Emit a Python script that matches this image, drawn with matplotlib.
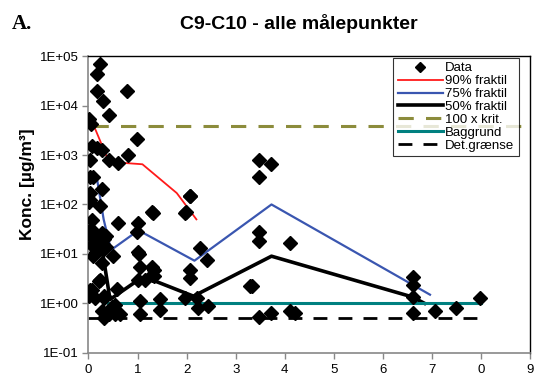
import numpy as np
import matplotlib
matplotlib.use("Agg")
import matplotlib.pyplot as plt
from matplotlib.ticker import FixedLocator, NullLocator

# measured data points (distance, concentration)
data_x = [0.24, 0.17, 0.78, 0.17, 0.29, 0.41, 0.02, 0.05, 0.99, 0.08, 0.18, 0.27, 0.03,
          0.81, 0.41, 0.61, 0.03, 0.03, 0.10, 0.27, 0.03, 2.06, 0.01, 0.24, 1.29, 2.07,
          1.99, 0.61, 1.02, 0.99, 0.07, 0.02, 0.08, 0.16, 0.27, 0.32, 0.07, 0.20, 0.12,
          0.30, 0.35, 0.51, 0.10, 0.27, 1.02, 1.05, 1.29, 1.29, 2.28, 2.42, 2.06, 2.06,
          0.24, 0.03, 0.02, 0.31, 0.58, 1.02, 1.15, 0.48, 1.05, 1.46, 1.46, 1.05, 1.31,
          1.97, 1.97, 2.21, 2.24, 2.44, 3.29, 0.21, 0.08, 0.14, 0.31, 0.55, 0.28, 0.42,
          0.55, 0.65, 0.31, 1.03, 1.33, 1.33, 3.48, 3.71, 3.48, 3.48, 3.48, 4.11, 3.33,
          3.48, 3.71, 4.11, 4.21, 6.61, 6.61, 6.61, 6.61, 7.06, 7.49, 7.98, 0.05, 0.12,
          0.22, 0.15, 0.36]
data_y = [70000, 44000, 20000, 20000, 12500, 6300, 5300, 4300, 2100, 1500, 1400, 1250, 800,
          1000, 800, 700, 360, 170, 360, 210, 125, 150, 110, 92, 70, 150,
          70, 42, 42, 28, 49, 25, 22, 24, 26, 20, 15, 13, 14,
          12, 14, 9, 9, 6.5, 11, 5.5, 5.4, 3.8, 13, 7.6, 4.8, 3.2,
          3.0, 1.9, 1.4, 1.4, 2.0, 3.0, 3.0, 0.85, 1.1, 1.2, 0.74, 0.6, 67,
          67, 1.26, 1.26, 0.8, 0.87, 2.2, 2.8, 1.9, 1.26, 1.26, 0.93, 0.69, 0.6,
          0.6, 0.62, 0.5, 10, 4.8, 3.6, 810, 650, 360, 28, 18, 17, 2.2,
          0.52, 0.65, 0.7, 0.65, 3.4, 2.3, 1.35, 0.65, 0.7, 0.8, 1.26, 32, 17,
          18, 11, 23]

# fractile curves
p90_x = [0.12, 0.40, 0.65, 1.10, 1.80, 2.20]
p90_y = [3700, 800, 700, 650, 170, 50]
p75_x = [0.17, 0.31, 0.46, 1.02, 2.16, 3.73, 6.96]
p75_y = [350, 50, 12, 30, 7.3, 100, 1.5]
p50_x = [0.15, 0.27, 0.44, 1.02, 1.22, 2.14, 3.73, 6.60, 6.85]
p50_y = [20, 14, 1.2, 3.0, 3.2, 1.4, 9.0, 1.35, 1.0]

krit_x = [0.10, 9.0]
krit_y = [3800, 3800]
bag_x = [0.40, 8.0]
bag_y = [1.0, 1.0]
det_x = [0.0, 8.0]
det_y = [0.5, 0.5]

xticks = [0, 1, 2, 3, 4, 5, 6, 7, 8, 9]
xticklabels = ["0", "1", "2", "3", "4", "5", "6", "7", "0", "9"]
yticks = [1e-1, 1e0, 1e1, 1e2, 1e3, 1e4, 1e5]
yticklabels = ["1E-01", "1E+00", "1E+01", "1E+02", "1E+03", "1E+04", "1E+05"]

plt.rcParams["font.family"] = ["Liberation Sans", "DejaVu Sans"]

fig = plt.figure(figsize=(5.36, 3.79), dpi=100)
ax = fig.add_axes([0.165, 0.069, 0.824, 0.783])

ax.plot(data_x, data_y, linestyle="none", marker="D", color="black",
        markersize=7, label="Data", zorder=5)
ax.plot(p90_x, p90_y, color="#ff1a1a", lw=1.3, label="90% fraktil")
ax.plot(p75_x, p75_y, color="#3a56b0", lw=1.6, label="75% fraktil")
ax.plot(p50_x, p50_y, color="black", lw=2.6, label="50% fraktil")
ax.plot(krit_x, krit_y, color="#8c8c3c", lw=2.2, dashes=(5, 4), label="100 x krit.")
ax.plot(bag_x, bag_y, color="#008080", lw=2.2, label="Baggrund")
ax.plot(det_x, det_y, color="black", lw=2.0, dashes=(5, 4), label="Det.grænse")

ax.set_yscale("log")
ax.set_xlim(0, 9)
ax.set_ylim(1e-1, 1e5)
ax.xaxis.set_major_locator(FixedLocator(xticks))
ax.set_xticklabels(xticklabels)
ax.yaxis.set_major_locator(FixedLocator(yticks))
ax.yaxis.set_minor_locator(NullLocator())
ax.set_yticklabels(yticklabels)
ax.tick_params(labelsize=9.5, length=4, color="#888888", width=1, pad=3)
ax.tick_params(axis="x", pad=4)

for s in ["left", "bottom"]:
    ax.spines[s].set_color("#888888")
    ax.spines[s].set_linewidth(1.2)
for s in ["right", "top"]:
    ax.spines[s].set_color("black")
    ax.spines[s].set_linewidth(1.0)

ax.set_ylabel("Konc. [µg/m³]", fontsize=12.5, fontweight="bold")
ax.yaxis.set_label_coords(-0.122, 0.57)
fig.text(0.558, 0.937, "C9-C10 - alle målepunkter", fontsize=14, fontweight="bold",
         ha="center", va="center")
fig.text(0.022, 0.937, "A.", fontsize=15, fontweight="bold", family="Liberation Serif",
         va="center")

leg = ax.legend(loc="upper right", bbox_to_anchor=(0.974, 0.995), fontsize=9.5,
                handlelength=3.4, labelspacing=0.05, borderpad=0.35,
                handletextpad=0.15, frameon=True, fancybox=False, borderaxespad=0)
leg.get_frame().set_edgecolor("black")
leg.get_frame().set_linewidth(0.8)
leg.legend_handles[0].set_markersize(5)

fig.savefig("out.png", dpi=100)
